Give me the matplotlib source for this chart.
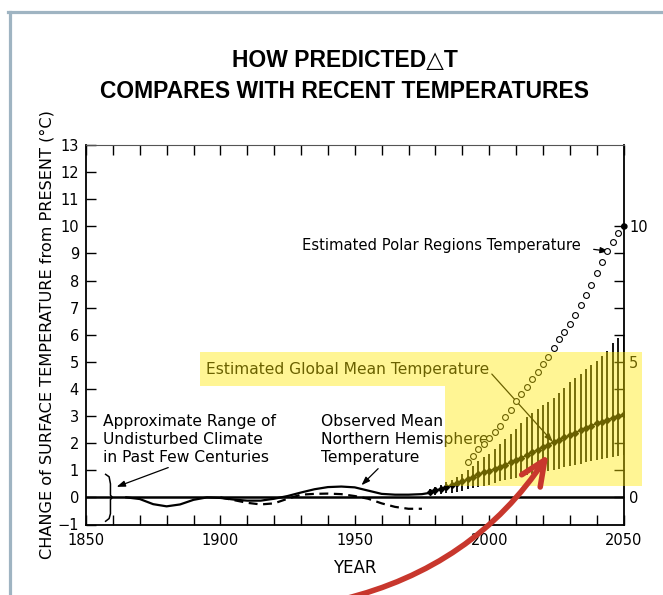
import matplotlib
matplotlib.use("Agg")
import matplotlib.pyplot as plt
from matplotlib.patches import Polygon, FancyArrowPatch
from matplotlib.lines import Line2D
import numpy as np

plt.rcParams['font.family'] = ['DejaVu Sans']

# --- data ---
# observed northern hemisphere temperature (solid) and second record (dashed)
obs_years = [1865, 1870, 1875, 1880, 1885, 1890, 1895, 1900, 1905, 1910, 1915, 1920,
             1925, 1930, 1935, 1940, 1945, 1950, 1955, 1960, 1965, 1970, 1975, 1980]
obs_solid = [0.0, -0.06, -0.25, -0.33, -0.26, -0.09, 0.0, -0.02, -0.08, -0.12, -0.12, -0.05,
             0.05, 0.18, 0.30, 0.38, 0.40, 0.37, 0.25, 0.13, 0.10, 0.10, 0.12, 0.20]
dash_years = [1900, 1905, 1910, 1915, 1920, 1925, 1930, 1935, 1940, 1945, 1950, 1955,
              1960, 1965, 1970, 1975]
obs_dashed = [0.0, -0.10, -0.20, -0.26, -0.22, -0.05, 0.10, 0.13, 0.14, 0.12, 0.05, -0.05,
              -0.22, -0.35, -0.42, -0.42]

# estimated global mean temperature with range bars
gm_years = list(range(1978, 2051, 2))
gm_mid = [0.20, 0.26, 0.32, 0.39, 0.45, 0.53, 0.59, 0.67, 0.74, 0.86, 0.92, 0.98,
          1.05, 1.13, 1.21, 1.30, 1.38, 1.46, 1.56, 1.66, 1.76, 1.86, 1.94, 2.06,
          2.12, 2.21, 2.30, 2.39, 2.48, 2.57, 2.65, 2.73, 2.79, 2.87, 2.93, 3.01, 3.06]
gm_low = [0.08, 0.10, 0.13, 0.16, 0.18, 0.21, 0.25, 0.31, 0.35, 0.40, 0.42, 0.45,
          0.52, 0.60, 0.64, 0.68, 0.72, 0.76, 0.82, 0.86, 0.92, 0.95, 0.98, 1.00,
          1.06, 1.12, 1.17, 1.21, 1.25, 1.30, 1.34, 1.37, 1.41, 1.45, 1.50, 1.54, 1.57]
gm_high = [0.30, 0.38, 0.46, 0.55, 0.65, 0.75, 0.86, 1.00, 1.15, 1.35, 1.48, 1.59,
           1.78, 1.96, 2.15, 2.35, 2.54, 2.75, 2.95, 3.10, 3.25, 3.40, 3.52, 3.65,
           3.85, 4.05, 4.24, 4.40, 4.57, 4.73, 4.90, 5.05, 5.22, 5.40, 5.71, 5.89, 5.95]

# estimated polar regions temperature (open circles)
polar_years = list(range(1992, 2051, 2))
polar_vals = [1.30, 1.54, 1.77, 1.98, 2.20, 2.43, 2.65, 2.98, 3.24, 3.54, 3.80, 4.08,
              4.35, 4.64, 4.91, 5.19, 5.50, 5.83, 6.10, 6.40, 6.73, 7.10, 7.45, 7.82,
              8.26, 8.67, 9.09, 9.43, 9.76, 10.0]

x_ticks = list(range(1850, 2051, 10))
x_labels = ['1850', '1900', '1950', '2000', '2050']
y_ticks = list(range(-1, 14))
right_ticks = list(range(0, 11))
right_labels = ['0', '5', '10']

W, H = 663, 595
fig = plt.figure(figsize=(W / 100, H / 100), dpi=100)
fig.patch.set_facecolor('white')

ax = fig.add_axes([86 / W, 1 - 524.5 / H, 537.5 / W, 379.5 / H])
ax.set_xlim(1850, 2050)
ax.set_ylim(-1, 13)

ax.set_xticks(x_ticks)
ax.set_xticklabels([str(y) if str(y) in x_labels else '' for y in x_ticks])
ax.set_yticks(y_ticks)
ax.set_yticklabels(['\u22121' if v == -1 else str(v) for v in y_ticks])
ax.tick_params(axis='both', direction='in', length=7, width=1.0, labelsize=10.5, pad=5)
ax.tick_params(axis='x', top=True, pad=6)
ax.tick_params(axis='y', right=False)
for s in ['left', 'bottom', 'right']:
    ax.spines[s].set_linewidth(1.3)
ax.spines['top'].set_linewidth(0.8)
ax.spines['top'].set_color('#555555')

# right-hand scale
ax2 = ax.twinx()
ax2.set_ylim(-1, 13)
ax2.set_yticks(right_ticks)
ax2.set_yticklabels([str(v) if str(v) in right_labels else '' for v in right_ticks])
ax2.tick_params(axis='y', direction='in', length=7, width=1.0, labelsize=10.5, pad=4)
for s in ax2.spines.values():
    s.set_visible(False)

# zero line
ax.axhline(0, color='black', lw=1.8, zorder=2)

# observed curves
ax.plot(obs_years, obs_solid, color='black', lw=1.6, zorder=3)
ax.plot(dash_years, obs_dashed, color='black', lw=1.6, ls=(0, (4, 2.5)), zorder=3)

# predicted global mean with range bars
ax.vlines(gm_years, gm_low, gm_high, color='black', lw=1.3, zorder=3)
ax.plot(gm_years, gm_mid, color='black', lw=1.0, marker='D', markersize=3.0, zorder=4)

# polar regions
ax.plot(polar_years, polar_vals, ls='none', marker='o', markersize=4.2,
        markerfacecolor='white', markeredgecolor='black', markeredgewidth=0.8, zorder=4)
ax.plot([polar_years[-1]], [polar_vals[-1]], marker='o', markersize=3.5, color='black',
        clip_on=False, zorder=5)

# brace for range of undisturbed climate
bx = [1857.3, 1858.6, 1859.1, 1859.1, 1859.8, 1859.1, 1859.1, 1858.6, 1857.3]
by = [0.85, 0.76, 0.5, 0.08, 0.0, -0.08, -0.6, -0.78, -0.88]
ax.plot(bx, by, color='black', lw=1.1, zorder=3)

txt = dict(fontsize=11.2, color='black', linespacing=1.25)
ax.text(1856.2, 2.12, 'Approximate Range of\nUndisturbed Climate\nin Past Few Centuries',
        ha='left', va='center', **txt)
ax.text(1937.3, 2.13, 'Observed Mean\nNorthern Hemisphere\nTemperature',
        ha='left', va='center', **txt)
ax.text(1894.8, 4.7, 'Estimated Global Mean Temperature', ha='left', va='center', **txt)
ax.text(1930.4, 9.3, 'Estimated Polar Regions Temperature', ha='left', va='center',
        fontsize=10.6)

arw = dict(arrowstyle='-|>,head_length=0.5,head_width=0.18', color='black', lw=0.9,
           shrinkA=0, shrinkB=0)
ax.annotate('', xy=(1861.4, 0.39), xytext=(1880.6, 1.1), arrowprops=arw)
ax.annotate('', xy=(1952.5, 0.45), xytext=(1958.7, 1.06), arrowprops=arw)
ax.annotate('', xy=(2023.7, 2.05), xytext=(2001.0, 4.55), arrowprops=arw)
ax.annotate('', xy=(2044.5, 9.08), xytext=(2038.9, 9.15), arrowprops=arw)

ax.set_xlabel('YEAR', fontsize=12, labelpad=8)
fig.text(47 / W, 1 - 335 / H, 'CHANGE of SURFACE TEMPERATURE from PRESENT (\u00b0C)',
         rotation=90, ha='center', va='center', fontsize=11.6)

# title
title_font = ['Liberation Sans', 'DejaVu Sans']
fig.text(345 / W, 1 - 60 / H, 'HOW PREDICTED\u25b3T', ha='center', va='center',
         fontsize=16.5, fontweight='bold', family=title_font)
fig.text(345 / W, 1 - 92 / H, 'COMPARES WITH RECENT TEMPERATURES', ha='center', va='center',
         fontsize=16.5, fontweight='bold', family=title_font)

# frame around the picture
frame_c = '#9fb4c2'
fig.add_artist(Line2D([8 / W, 1.0], [1 - 12 / H, 1 - 12 / H], color=frame_c, lw=2.3,
                      transform=fig.transFigure))
fig.add_artist(Line2D([10 / W, 10 / W], [1 - 12 / H, 0.0], color=frame_c, lw=2.3,
                      transform=fig.transFigure))

# yellow highlight
hl = [(200, 352), (642, 352), (642, 486), (445, 486), (445, 386), (200, 386)]
fig.add_artist(Polygon([(x / W, 1 - y / H) for x, y in hl], closed=True,
                       facecolor='#ffe800', edgecolor='none', alpha=0.42,
                       transform=fig.transFigure, zorder=10))

# red pointer arrow
fig.add_artist(FancyArrowPatch((340 / W, 1 - 600 / H), (550 / W, 1 - 452 / H),
                               transform=fig.transFigure, connectionstyle='arc3,rad=0.2',
                               arrowstyle='->,head_length=18,head_width=8', mutation_scale=1,
                               lw=4, color='#c8372d', zorder=11, capstyle='round'))

fig.savefig('out.png', dpi=100)
